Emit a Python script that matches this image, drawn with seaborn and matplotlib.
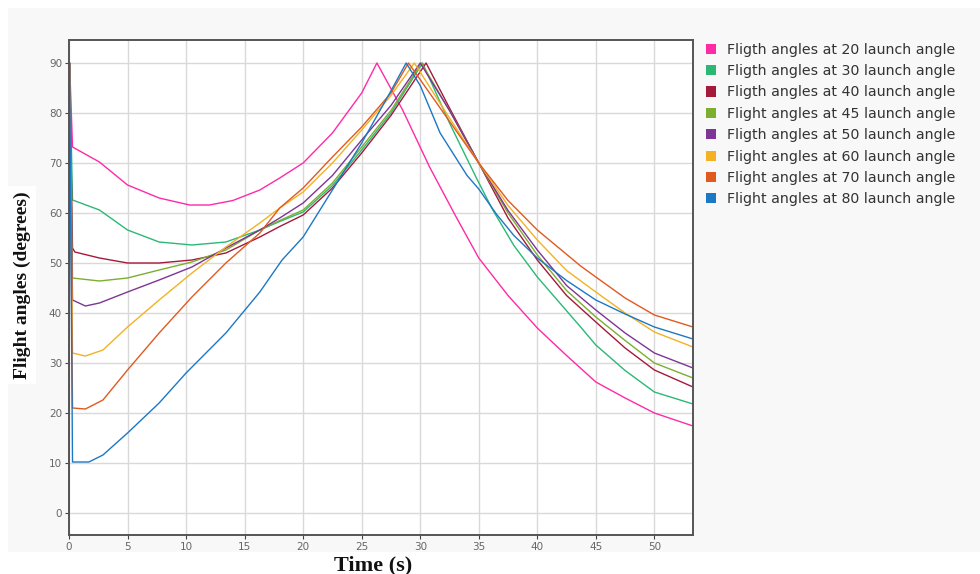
import matplotlib
matplotlib.use("Agg")
import matplotlib.pyplot as plt
from matplotlib.patches import Rectangle, Patch
import seaborn as sns
import pandas as pd

# Flight angle histories (time in s, angle in degrees) for each launch angle
t_20 = [0, 0.05, 0.3, 2.6, 5, 7.7, 10.3, 12, 14, 16.3, 18, 20, 22.5, 25, 26.3, 28.5, 30.8, 33, 35, 37.5, 40, 42.5, 45, 47.5, 50, 53.3]
a_20 = [0, 90, 73.2, 70.2, 65.6, 63, 61.6, 61.6, 62.5, 64.6, 67, 70, 76, 84, 90, 80.6, 69.2, 59.5, 51, 43.5, 37, 31.5, 26.2, 23, 20, 17.4]

t_30 = [0, 0.05, 0.3, 2.6, 5, 7.7, 10.5, 13.4, 16.3, 18, 20, 22.5, 25, 27.5, 30.2, 32.5, 34.8, 36.2, 38, 40, 43.7, 45, 47.5, 50, 53.3]
a_30 = [0, 90, 62.6, 60.6, 56.6, 54.2, 53.6, 54.2, 56.6, 58.3, 60.2, 65.5, 72.6, 80, 90, 78, 67, 60.6, 53.5, 47.2, 37.2, 33.6, 28.5, 24.2, 21.8]

t_40 = [0, 0.05, 0.3, 0.5, 2.6, 5, 7.7, 10.5, 13.4, 16.3, 18, 20, 22.5, 25, 27.5, 30.5, 32.5, 35, 37.5, 40, 42.5, 45, 47.5, 50, 53.3]
a_40 = [0, 90, 53, 52.2, 51, 50, 50, 50.6, 52, 55.2, 57.3, 59.6, 65, 72, 79.5, 90, 81, 70, 59, 50.6, 43.5, 38.2, 33, 28.6, 25.2]

t_45 = [0, 0.05, 0.3, 2.6, 5, 7.7, 10.5, 13.4, 16.3, 18, 20, 22.5, 25, 27.5, 30.1, 32.5, 35, 37.5, 40, 42.5, 45, 47.5, 50, 53.3]
a_45 = [0, 90, 47, 46.4, 47, 48.6, 50.2, 52.6, 56.6, 58.5, 60.6, 66, 73.2, 80.5, 90, 80.5, 70, 60, 51.6, 44.5, 39.2, 34.5, 30, 27]

t_50 = [0, 0.05, 0.3, 1.4, 2.6, 5, 7.7, 10.5, 13.4, 16.3, 18, 20, 22.5, 25, 27.5, 30.0, 32.5, 35, 37.5, 40, 42.5, 45, 47.5, 50, 53.3]
a_50 = [0, 90, 42.6, 41.4, 42, 44.2, 46.6, 49.2, 53, 56.6, 59, 62, 67.5, 74.6, 81.5, 90, 80.5, 70, 60.5, 52.6, 45.5, 40.6, 36, 32, 29]

t_60 = [0, 0.05, 0.3, 1.4, 2.9, 5, 7.7, 10.5, 13.4, 16.3, 18, 20, 22.5, 25, 27.5, 29.5, 32.5, 35, 37.5, 40, 42.5, 45, 47.5, 50, 53.3]
a_60 = [0, 90, 32, 31.4, 32.6, 37.2, 42.6, 48, 53.2, 58, 61, 64.2, 70, 76.6, 83.5, 90, 79, 70, 61.5, 54.6, 48.5, 44.2, 40, 36.2, 33.2]

t_70 = [0, 0.05, 0.3, 1.4, 2.9, 5, 7.7, 10.5, 13.4, 16.3, 18, 20, 22.5, 25, 27.5, 29.0, 32, 35, 37.5, 40, 43.7, 45, 47.5, 50, 53.3]
a_70 = [0, 90, 21, 20.8, 22.6, 28.6, 36, 43.2, 50, 56, 61, 65, 71.2, 77.2, 84, 90, 80, 70, 62.5, 56.6, 49.4, 47.2, 43, 39.6, 37.2]

t_80 = [0, 0.05, 0.3, 1.7, 2.9, 5, 7.7, 10, 13.4, 16.3, 18.2, 20, 22.5, 25, 27.4, 28.8, 30, 31.7, 34, 35, 36.5, 38, 40, 42.5, 45, 47.5, 50, 53.3]
a_80 = [0, 90, 10.2, 10.2, 11.6, 16, 22, 28, 36, 44.2, 50.6, 55.2, 64.6, 74, 84, 90, 85.5, 76, 67.5, 64.8, 59.8, 55.5, 51, 46.5, 42.6, 39.8, 37.2, 34.8]

series_labels = [
    "Fligth angles at 20 launch angle",
    "Fligth angles at 30 launch angle",
    "Fligth angles at 40 launch angle",
    "Flight angles at 45 launch angle",
    "Fligth angles at 50 launch angle",
    "Flight angles at 60 launch angle",
    "Flight angles at 70 launch angle",
    "Flight angles at 80 launch angle",
]
series_colors = ["#ff2aa6", "#2bb876", "#a5193a", "#7cae30", "#7e3595",
                 "#f2b223", "#e05a20", "#1c78c4"]
times = [t_20, t_30, t_40, t_45, t_50, t_60, t_70, t_80]
angles = [a_20, a_30, a_40, a_45, a_50, a_60, a_70, a_80]

x_ticks = [0, 5, 10, 15, 20, 25, 30, 35, 40, 45, 50]
y_ticks = [0, 10, 20, 30, 40, 50, 60, 70, 80, 90]

rows = []
for lab, ts, vs in zip(series_labels, times, angles):
    for i, (t, v) in enumerate(zip(ts, vs)):
        rows.append({"series": lab, "order": i, "time": t, "angle": v})
df = pd.DataFrame(rows)

sns.set_theme(style="white")
plt.rcParams["font.family"] = ["DejaVu Sans"]

fig = plt.figure(figsize=(9.8, 5.74), dpi=100)
fig.patch.set_facecolor("white")
# light grey panel behind the chart
fig.add_artist(Rectangle((8 / 980, (574 - 552) / 574), 1 - 8 / 980, (552 - 8) / 574,
                         transform=fig.transFigure, facecolor="#f8f8f8",
                         edgecolor="none", zorder=-10))

ax = fig.add_axes([69 / 980, (574 - 535) / 574, (693 - 69) / 980, (535 - 40) / 574])
ax.set_facecolor("white")

sns.lineplot(data=df, x="time", y="angle", hue="series", hue_order=series_labels,
             palette=series_colors, sort=False, estimator=None, units="series",
             linewidth=1.0, legend=False, ax=ax)

ax.set_xlim(0, 53.3)
ax.set_ylim(-4.4, 94.6)
ax.set_xticks(x_ticks)
ax.set_yticks(y_ticks)
ax.grid(True, color="#d9d9d9", linewidth=1.0)
ax.set_axisbelow(True)
for s in ax.spines.values():
    s.set_color("#555555")
    s.set_linewidth(1.4)
ax.tick_params(axis="both", which="major", labelsize=7.5, labelcolor="#666666",
               color="#444444", length=3, width=0.8, direction="out",
               bottom=True, left=True, pad=2)
ax.set_xlabel("")
ax.set_ylabel("")

fig.text(373 / 980, 1 - 565 / 574, "Time (s)", ha="center", va="center",
         fontsize=16, fontweight="bold", family=["Liberation Serif"], color="#111111")
fig.text(22 / 980, 1 - 285 / 574, "Flight angles (degrees)", ha="center", va="center",
         rotation=90, fontsize=14, fontweight="bold", family=["Liberation Serif"],
         color="#111111",
         bbox=dict(facecolor="white", edgecolor="none", pad=4))

handles = [Patch(facecolor=c, edgecolor="none") for c in series_colors]
leg = fig.legend(handles, series_labels, loc="upper left",
                 bbox_to_anchor=(693 / 980, 1 - 30 / 574), frameon=False,
                 prop={"family": "DejaVu Sans", "size": 10.2},
                 handlelength=0.72, handleheight=0.72, handletextpad=0.75,
                 labelspacing=0.52, labelcolor="#333333")

fig.savefig("out.png", dpi=100, facecolor="white")
